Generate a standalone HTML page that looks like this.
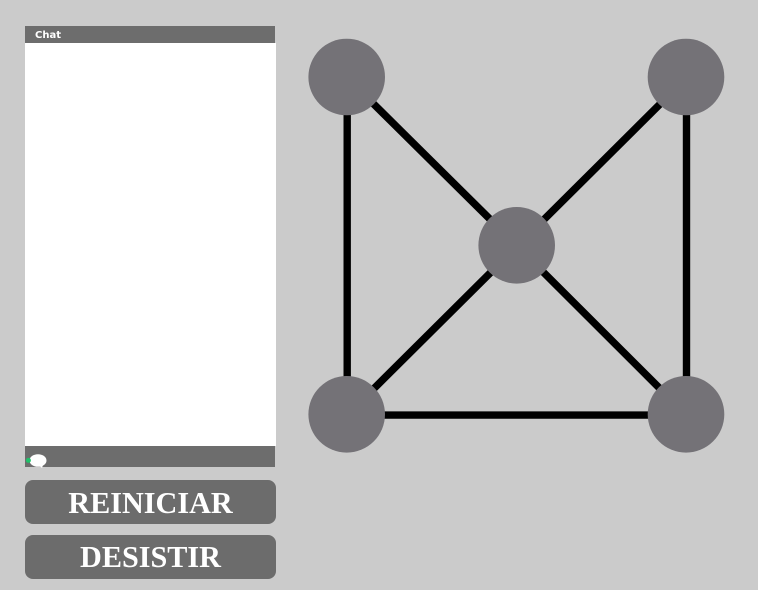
<!DOCTYPE html>
<html>
<head>
<meta charset="utf-8">
<style>
html,body{margin:0;padding:0;width:758px;height:590px;overflow:hidden;background:#cbcbcb;font-family:"Liberation Serif",serif}
#stage{position:relative;width:758px;height:590px;background:#cbcbcb}
.abs{position:absolute}
#chat-header{left:25px;top:26px;width:250px;height:17px;background:#6d6d6d;color:#fff;font:bold 10px/19px "DejaVu Sans",sans-serif}
#chat-header span{position:absolute;left:10px;top:0}
#chat-body{left:25px;top:43px;width:251px;height:403px;background:#fff}
#chat-input{left:25px;top:446px;width:250px;height:21px;background:#6d6d6d}
.btn{position:absolute;left:25px;width:251px;height:44px;background:#6c6c6c;border-radius:8px;color:#fff;font:bold 30.2px/46px "Liberation Serif",serif;text-align:center;border:0;padding:0}
#graph{position:absolute;left:0;top:0}
</style>
</head>
<body>
<div id="stage">
  <div id="chat-header" class="abs"><span>Chat</span></div>
  <div id="chat-body" class="abs"></div>
  <div id="chat-input" class="abs"></div>
  <svg class="abs" style="left:0;top:0" width="60" height="480">
    <ellipse cx="38" cy="460.500" rx="8.500" ry="6.300" fill="#fff"/>
    <path d="M38 465 L43 465 L42 468 Z" fill="#fff"/>
    <circle cx="28.400" cy="460.400" r="2.500" fill="#1fc26a"/>
  </svg>
  <div class="btn" style="top:480px">REINICIAR</div>
  <div class="btn" style="top:535px;line-height:45px">DESISTIR</div>
  <svg id="graph" width="758" height="590" style="pointer-events:none"></svg>
</div>
<script>
const nodeX = [346.7, 686, 516.7, 346.7, 686];
const nodeY = [77, 77, 245.3, 414.3, 414.3];
const edgeFrom = [0, 0, 1, 1, 2, 2, 3];
const edgeTo = [3, 2, 2, 4, 3, 4, 4];
const svg = document.getElementById('graph');
const NS = 'http://www.w3.org/2000/svg';
edgeFrom.forEach(function (a, i) {
  const line = document.createElementNS(NS, 'line');
  line.setAttribute('x1', nodeX[a] + 0.5);
  line.setAttribute('y1', nodeY[a] + 0.8);
  line.setAttribute('x2', nodeX[edgeTo[i]] + 0.5);
  line.setAttribute('y2', nodeY[edgeTo[i]] + 0.8);
  line.setAttribute('stroke', '#000');
  line.setAttribute('stroke-width', '7.4');
  
  
  svg.appendChild(line);
});
nodeX.forEach(function (x, i) {
  const c = document.createElementNS(NS, 'circle');
  c.setAttribute('cx', x);
  c.setAttribute('cy', nodeY[i]);
  c.setAttribute('r', '38.3');
  c.setAttribute('fill', '#747277');
  c.setAttribute('style', 'pointer-events:auto;cursor:pointer');
  
  
  svg.appendChild(c);
});
</script>
</body>
</html>
